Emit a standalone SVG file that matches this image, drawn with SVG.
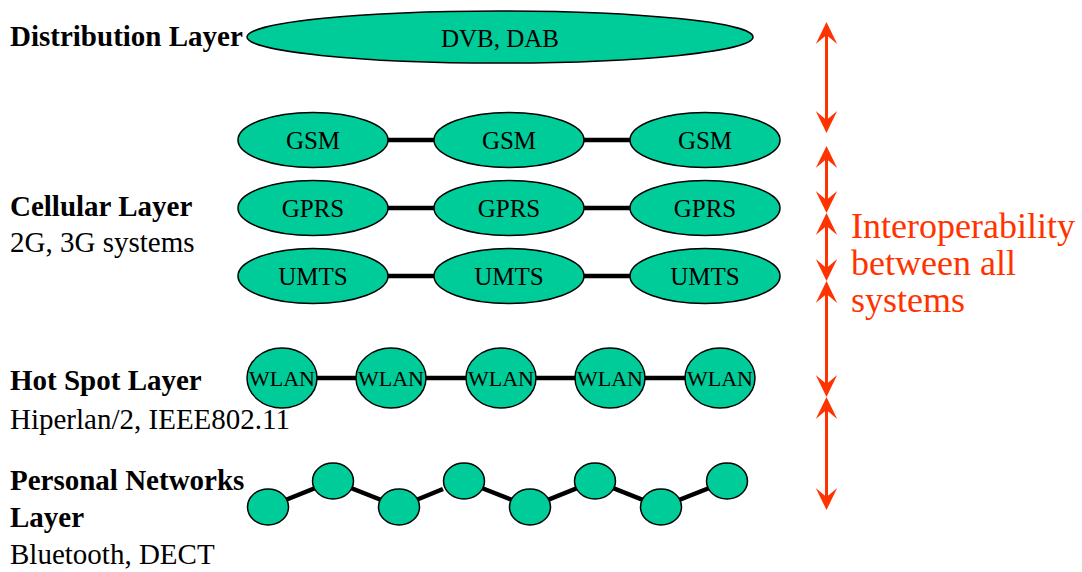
<svg xmlns="http://www.w3.org/2000/svg" width="1082" height="572" viewBox="0 0 1082 572">
  <style>
    .node { fill: #00CC99; stroke: #000; stroke-width: 1.5; }
    .lbl { font-family: "Liberation Serif", "Times New Roman", serif; fill: #000; text-anchor: middle; }
    .layer { font-family: "Liberation Serif", "Times New Roman", serif; font-size: 29px; font-weight: bold; fill: #000; }
    .sub { font-family: "Liberation Serif", "Times New Roman", serif; font-size: 29px; fill: #000; }
    .link { stroke: #000; stroke-width: 4.5; fill: none; }
    .inter { stroke: #FF3300; stroke-width: 3; fill: none; marker-start: url(#head); marker-end: url(#head); }
    .note { font-family: "Liberation Serif", "Times New Roman", serif; font-size: 36px; fill: #FF3300; }
  </style>
  <defs>
    <marker id="head" markerUnits="userSpaceOnUse" viewBox="0 0 22 22" markerWidth="22" markerHeight="22" refX="9" refY="11" orient="auto-start-reverse">
      <path d="M22,11 L0,0.3 L9,11 L0,21.7 Z" fill="#FF3300"/>
    </marker>
  </defs>
  <rect width="1082" height="572" fill="#fff"/>

  <!-- layer captions -->
  <g id="captions">
    <text class="layer" x="10" y="46">Distribution Layer</text>
    <text class="layer" x="10" y="216">Cellular Layer</text>
    <text class="sub" x="10" y="252">2G, 3G systems</text>
    <text class="layer" x="10" y="390">Hot Spot Layer</text>
    <text class="sub" x="10" y="429">Hiperlan/2, IEEE802.11</text>
    <text class="layer" x="10" y="490">Personal Networks</text>
    <text class="layer" x="10" y="527">Layer</text>
    <text class="sub" x="10" y="564">Bluetooth, DECT</text>
  </g>

  <!-- links between systems -->
  <g id="connectors">
    <line class="link" x1="313" y1="140" x2="705" y2="140"/>
    <line class="link" x1="313" y1="208" x2="705" y2="208"/>
    <line class="link" x1="313" y1="276" x2="705" y2="276"/>
    <line class="link" x1="282" y1="378" x2="720" y2="378"/>
    <polyline class="link" points="268,507 333,481 399,507"/>
    <line class="link" x1="399" y1="507" x2="443" y2="489"/>
    <polyline class="link" points="464,481 530,507 595,481 661,507 727,481"/>
    <!-- interoperability arrows -->
    <line class="inter" x1="826.5" y1="35" x2="826.5" y2="120"/>
    <line class="inter" x1="826.5" y1="159" x2="826.5" y2="200"/>
    <line class="inter" x1="826.5" y1="226" x2="826.5" y2="268"/>
    <line class="inter" x1="826.5" y1="294" x2="826.5" y2="384"/>
    <line class="inter" x1="826.5" y1="410" x2="826.5" y2="497"/>
  </g>

  <g id="dvb">
    <ellipse class="node" cx="500" cy="37" rx="253" ry="26"/>
    <text class="lbl" x="500" y="47" font-size="25">DVB, DAB</text>
  </g>

  <g id="gsm1"><ellipse class="node" cx="313" cy="140" rx="75" ry="27.5"/><text class="lbl" x="313" y="149" font-size="25">GSM</text></g>
  <g id="gsm2"><ellipse class="node" cx="509" cy="140" rx="75" ry="27.5"/><text class="lbl" x="509" y="149" font-size="25">GSM</text></g>
  <g id="gsm3"><ellipse class="node" cx="705" cy="140" rx="75" ry="27.5"/><text class="lbl" x="705" y="149" font-size="25">GSM</text></g>

  <g id="gprs1"><ellipse class="node" cx="313" cy="208" rx="75" ry="27.5"/><text class="lbl" x="313" y="217" font-size="25">GPRS</text></g>
  <g id="gprs2"><ellipse class="node" cx="509" cy="208" rx="75" ry="27.5"/><text class="lbl" x="509" y="217" font-size="25">GPRS</text></g>
  <g id="gprs3"><ellipse class="node" cx="705" cy="208" rx="75" ry="27.5"/><text class="lbl" x="705" y="217" font-size="25">GPRS</text></g>

  <g id="umts1"><ellipse class="node" cx="313" cy="276" rx="75" ry="27.5"/><text class="lbl" x="313" y="285" font-size="25">UMTS</text></g>
  <g id="umts2"><ellipse class="node" cx="509" cy="276" rx="75" ry="27.5"/><text class="lbl" x="509" y="285" font-size="25">UMTS</text></g>
  <g id="umts3"><ellipse class="node" cx="705" cy="276" rx="75" ry="27.5"/><text class="lbl" x="705" y="285" font-size="25">UMTS</text></g>

  <g id="wlan1"><ellipse class="node" cx="282" cy="378" rx="35" ry="30"/><text class="lbl" x="282" y="386" font-size="22">WLAN</text></g>
  <g id="wlan2"><ellipse class="node" cx="391" cy="378" rx="35" ry="30"/><text class="lbl" x="391" y="386" font-size="22">WLAN</text></g>
  <g id="wlan3"><ellipse class="node" cx="501" cy="378" rx="35" ry="30"/><text class="lbl" x="501" y="386" font-size="22">WLAN</text></g>
  <g id="wlan4"><ellipse class="node" cx="610" cy="378" rx="35" ry="30"/><text class="lbl" x="610" y="386" font-size="22">WLAN</text></g>
  <g id="wlan5"><ellipse class="node" cx="720" cy="378" rx="35" ry="30"/><text class="lbl" x="720" y="386" font-size="22">WLAN</text></g>

  <g id="pan1"><ellipse class="node" cx="268" cy="507" rx="20.5" ry="18"/></g>
  <g id="pan2"><ellipse class="node" cx="333" cy="481" rx="20.5" ry="18"/></g>
  <g id="pan3"><ellipse class="node" cx="399" cy="507" rx="20.5" ry="18"/></g>
  <g id="pan4"><ellipse class="node" cx="464" cy="481" rx="20.5" ry="18"/></g>
  <g id="pan5"><ellipse class="node" cx="530" cy="507" rx="20.5" ry="18"/></g>
  <g id="pan6"><ellipse class="node" cx="595" cy="481" rx="20.5" ry="18"/></g>
  <g id="pan7"><ellipse class="node" cx="661" cy="507" rx="20.5" ry="18"/></g>
  <g id="pan8"><ellipse class="node" cx="727" cy="481" rx="20.5" ry="18"/></g>

  <g id="interop-note">
    <text class="note" x="851" y="238">Interoperability</text>
    <text class="note" x="851" y="275">between all</text>
    <text class="note" x="851" y="312">systems</text>
  </g>
</svg>
